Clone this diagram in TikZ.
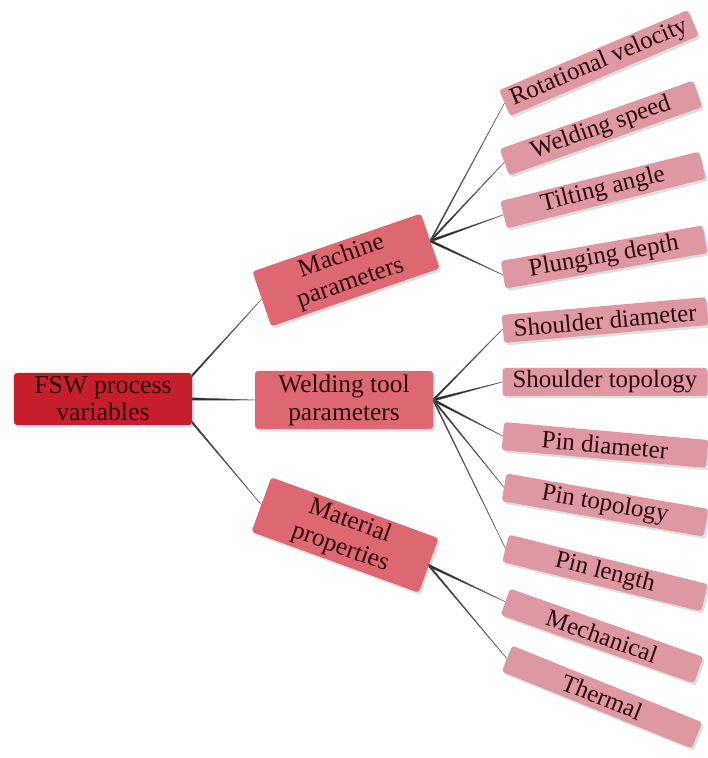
\documentclass[tikz,border=0pt]{standalone}
\usepackage{fontspec}
\setmainfont{Liberation Serif}
\usetikzlibrary{shadows}
\definecolor{rootred}{RGB}{198,30,42}
\definecolor{midred}{RGB}{222,104,113}
\definecolor{leafpink}{RGB}{222,152,162}
\definecolor{boxtext}{RGB}{45,8,12}

\begin{document}
\begin{tikzpicture}[x=1bp,y=1bp,
  box/.style={rounded corners=3bp,text=boxtext,align=center,inner sep=0pt,
    drop shadow={opacity=0.25,shadow xshift=2bp,shadow yshift=-2.5bp}},
  rootbox/.style={box,fill=rootred,minimum width=178bp,minimum height=52bp,
    font=\fontsize{26}{27}\selectfont},
  midbox/.style={box,fill=midred,minimum width=178bp,minimum height=58bp,
    font=\fontsize{25.5}{28}\selectfont},
  leafbox/.style={box,fill=leafpink,minimum width=205bp,minimum height=28bp,
    font=\fontsize{25}{26}\selectfont},
  link/.style={fill=black!85,draw=black!65,line width=0.4bp,line join=round}]
  \useasboundingbox (0,0) rectangle (708,758);

  \node[rootbox] (fsw) at (103,359) {FSW process\\variables};

  \node[midbox,rotate=19] (mach) at (346,488) {Machine\\parameters};
  \node[midbox] (tool) at (344,358) {Welding tool\\parameters};
  \node[midbox,rotate=-20] (mat) at (345,223) {Material\\properties};

  \node[leafbox,rotate=23] (rotvel) at (599,695) {Rotational velocity};
  \node[leafbox,rotate=19.5] (wspeed) at (601,630) {Welding speed};
  \node[leafbox,rotate=14] (tilt) at (603,568) {Tilting angle};
  \node[leafbox,rotate=10] (plunge) at (604,501) {Plunging depth};

  \node[leafbox,rotate=5] (shdia) at (605,438) {Shoulder diameter};
  \node[leafbox] (shtop) at (605,376) {Shoulder topology};
  \node[leafbox,rotate=-5] (pindia) at (605,313) {Pin diameter};
  \node[leafbox,rotate=-10] (pintop) at (605,253) {Pin topology};
  \node[leafbox,rotate=-14] (pinlen) at (605,185) {Pin length};

  \node[leafbox,rotate=-19.5] (mech) at (602,122) {Mechanical};
  \node[leafbox,rotate=-22] (therm) at (602,61) {Thermal};

  % tapered connectors, thick at the parent
  \fill[link] ([yshift=-1.5bp]fsw.north east) -- (mach.west) -- ([yshift=-4bp]fsw.north east) -- cycle;
  \fill[link] ([yshift=1.2bp]fsw.east) -- (tool.west) -- ([yshift=-1.2bp]fsw.east) -- cycle;
  \fill[link] ([yshift=4bp]fsw.south east) -- (mat.west) -- ([yshift=1.5bp]fsw.south east) -- cycle;
  \foreach \leaf in {rotvel,wspeed,tilt,plunge}
    \fill[link] ([yshift=1.3bp]mach.east) -- (\leaf.west) -- ([yshift=-1.3bp]mach.east) -- cycle;
  \foreach \leaf in {shdia,shtop,pindia,pintop,pinlen}
    \fill[link] ([yshift=1.3bp]tool.east) -- (\leaf.west) -- ([yshift=-1.3bp]tool.east) -- cycle;
  \foreach \leaf in {mech,therm}
    \fill[link] ([yshift=1.3bp]mat.east) -- (\leaf.west) -- ([yshift=-1.3bp]mat.east) -- cycle;
\end{tikzpicture}
\end{document}
